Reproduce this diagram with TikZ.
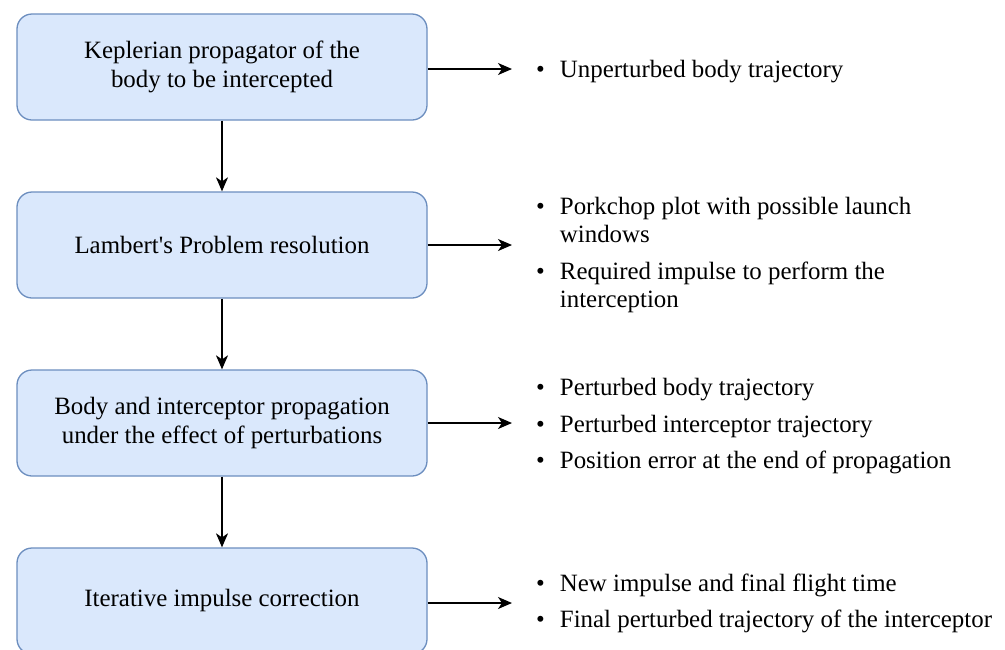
\documentclass[tikz,border=0pt]{standalone}
\usepackage{fontspec}
\setmainfont{Liberation Serif}
\usetikzlibrary{arrows.meta}
\definecolor{boxfill}{HTML}{DAE8FC}
\definecolor{boxdraw}{HTML}{6C8EBF}
\newcommand{\gapitem}{\\[8pt]}
\begin{document}
\begin{tikzpicture}[x=1pt,y=-1pt,
  stepbox/.style={draw=boxdraw, fill=boxfill, line width=1.3pt, rounded corners=15pt,
    minimum width=410pt, minimum height=106pt, align=center, inner sep=0pt,
    font=\fontsize{24.9}{28.5}\selectfont},
  flow/.style={-{Stealth[length=14pt,width=12pt,inset=4pt]}, line width=1.4pt},
  outlist/.style={anchor=west, inner sep=0pt, font=\fontsize{24.9}{28.5}\selectfont}]
\useasboundingbox (0,0) rectangle (1005,649);
\begin{scope}
\clip (0,0) rectangle (1005,649);
\node[stepbox] (b1) at (222,67) {Keplerian propagator of the\\body to be intercepted};
\node[stepbox] (b2) at (222,245) {Lambert\textquotesingle s Problem resolution};
\node[stepbox] (b3) at (222,423) {Body and interceptor propagation\\under the effect of perturbations};
\node[stepbox] (b4) at (222,601) {Iterative impulse correction};
\end{scope}
\draw[flow] (b1) -- (b2);
\draw[flow] (b2) -- (b3);
\draw[flow] (b3) -- (b4);
\coordinate (t1) at (512,69);
\coordinate (t2) at (512,245);
\coordinate (t3) at (512,423);
\coordinate (t4) at (512,603);
\draw[flow] (b1.east |- t1) -- (t1);
\draw[flow] (b2.east |- t2) -- (t2);
\draw[flow] (b3.east |- t3) -- (t3);
\draw[flow] (b4.east |- t4) -- (t4);
\node[outlist] (l1) at (536,72) {\begin{tabular}{@{}l@{\hspace{15pt}}l@{}}\textbullet & Unperturbed body trajectory\end{tabular}};
\node[outlist] (l2) at (536,255.5) {\begin{tabular}{@{}l@{\hspace{15pt}}l@{}}\textbullet & Porkchop plot with possible launch\\ & windows\gapitem \textbullet & Required impulse to perform the\\ & interception\end{tabular}};
\node[outlist] (l3) at (536,426.5) {\begin{tabular}{@{}l@{\hspace{15pt}}l@{}}\textbullet & Perturbed body trajectory\gapitem \textbullet & Perturbed interceptor trajectory\gapitem \textbullet & Position error at the end of propagation\end{tabular}};
\node[outlist] (l4) at (536,604) {\begin{tabular}{@{}l@{\hspace{15pt}}l@{}}\textbullet & New impulse and final flight time\gapitem \textbullet & Final perturbed trajectory of the interceptor\end{tabular}};
\end{tikzpicture}
\end{document}
